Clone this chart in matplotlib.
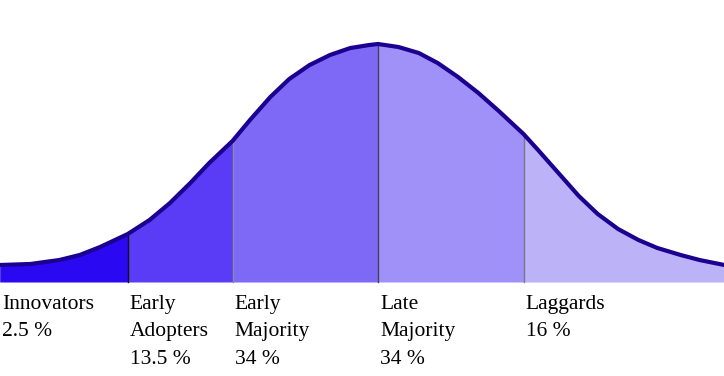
import matplotlib.pyplot as plt
import numpy as np

# curve: x in standard deviations, y in height units above the floor
curve_x = [-2.60, -2.39, -2.19, -2.05, -1.91, -1.72, -1.57, -1.43, -1.29, -1.16,
           -1.00, -0.88, -0.74, -0.61, -0.47, -0.33, -0.19, -0.06, 0.00, 0.14,
           0.28, 0.41, 0.55, 0.69, 0.83, 1.00, 1.10, 1.24, 1.38, 1.51,
           1.65, 1.79, 1.92, 2.08, 2.21, 2.38]
curve_y = [17, 18, 22, 27, 35, 48, 62, 79, 99, 119,
           141, 162, 185, 203, 217, 227, 234, 237, 238, 235,
           229, 219, 205, 189, 171, 148, 132, 109, 86, 68,
           53, 42, 34, 27, 22, 17]

groups = ['Innovators', 'Early\nAdopters', 'Early\nMajority', 'Late\nMajority', 'Laggards']
shares = ['2.5 %', '13.5 %', '34 %', '34 %', '16 %']
edges = [-2.60, -1.72, -1.00, 0.00, 1.00, 2.38]

colors = ['#2a08f2', '#5a3cf6', '#7e69f7', '#a091f8', '#bcb2f8']
divider_colors = ['#111111', '#8a8a9a', '#444455', '#777788']

x = np.array(curve_x)
y = np.array(curve_y)

fig = plt.figure(figsize=(7.24, 3.76), dpi=100)
ax = fig.add_axes([0, 0, 1, 1])

for i in range(len(groups)):
    lo, hi = edges[i], edges[i + 1]
    m = (x >= lo) & (x <= hi)
    ax.fill_between(x[m], 0, y[m], color=colors[i], linewidth=0)
    ax.text(lo + 0.015, -13, groups[i] + '\n' + shares[i], ha='left', va='top',
            fontsize=15.5, family='Liberation Serif', linespacing=1.6)

for e, c in zip(edges[1:-1], divider_colors):
    ax.plot([e, e], [0, np.interp(e, x, y)], color=c, lw=1)

ax.plot(x, y, color='#1c0090', lw=3, solid_joinstyle='round')

ax.set_xlim(-2.598, 2.378)
ax.set_ylim(-94, 282)
ax.axis('off')

plt.savefig('out.png', dpi=100)
